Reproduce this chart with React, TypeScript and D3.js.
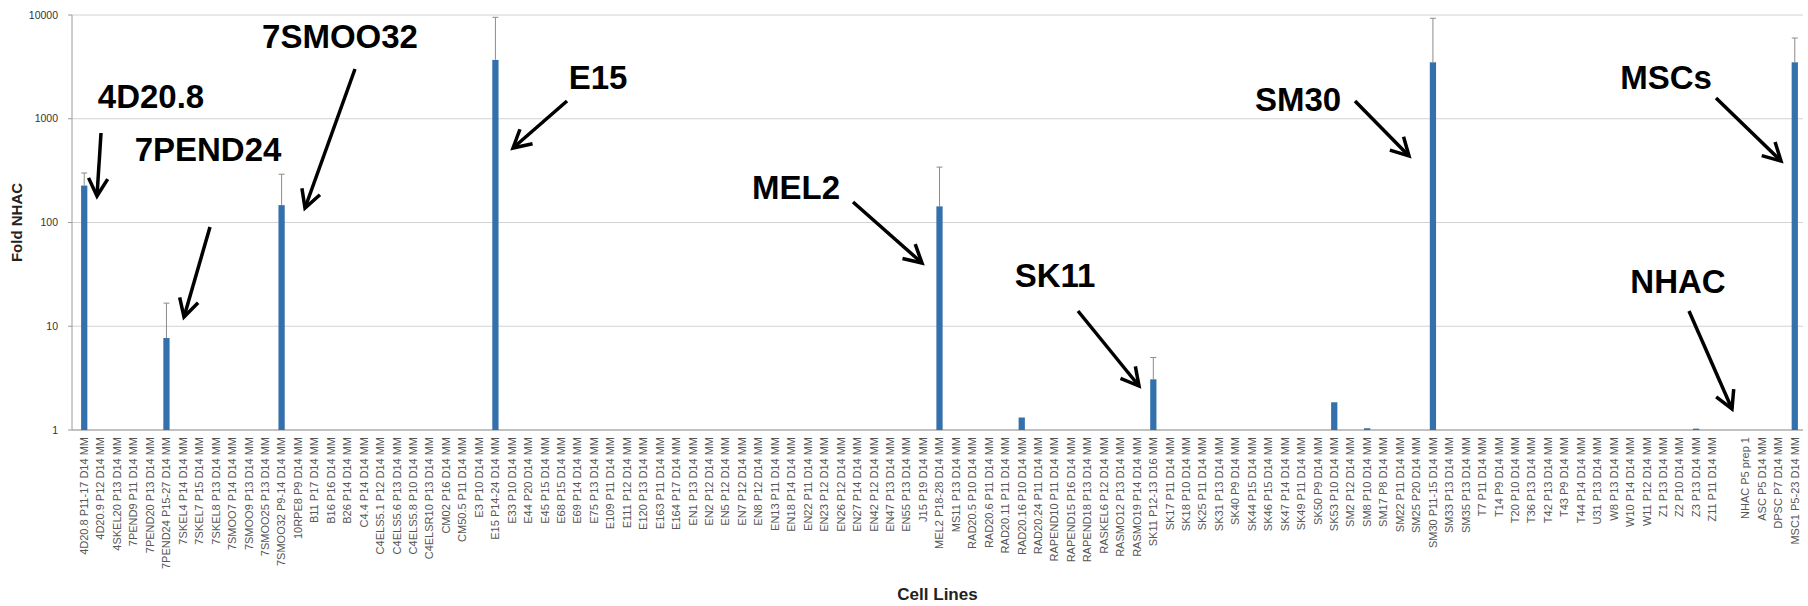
import React from "react";
import * as d3 from "d3";

const cellLines: string[] = [
  "4D20.8 P11-17 D14 MM", "4D20.9 P12 D14 MM", "4SKEL20 P13 D14 MM", "7PEND9 P11 D14 MM", "7PEND20 P13 D14 MM",
  "7PEND24 P15-27 D14 MM", "7SKEL4 P14 D14 MM", "7SKEL7 P15 D14 MM", "7SKEL8 P13 D14 MM", "7SMOO7 P14 D14 MM",
  "7SMOO9 P13 D14 MM", "7SMOO25 P13 D14 MM", "7SMOO32 P9-14 D14 MM", "10RPE8 P9 D14 MM", "B11 P17 D14 MM",
  "B16 P16 D14 MM", "B26 P14 D14 MM", "C4.4 P14 D14 MM", "C4ELS5.1 P12 D14 MM", "C4ELS5.6 P13 D14 MM",
  "C4ELS5.8 P10 D14 MM", "C4ELSR10 P13 D14 MM", "CM02 P16 D14 MM", "CM50.5 P11 D14 MM", "E3 P10 D14 MM",
  "E15 P14-24 D14 MM", "E33 P10 D14 MM", "E44 P20 D14 MM", "E45 P15 D14 MM", "E68 P15 D14 MM",
  "E69 P14 D14 MM", "E75 P13 D14 MM", "E109 P11 D14 MM", "E111 P12 D14 MM", "E120 P13 D14 MM",
  "E163 P11 D14 MM", "E164 P17 D14 MM", "EN1 P13 D14 MM", "EN2 P12 D14 MM", "EN5 P12 D14 MM",
  "EN7 P12 D14 MM", "EN8 P12 D14 MM", "EN13 P11 D14 MM", "EN18 P14 D14 MM", "EN22 P11 D14 MM",
  "EN23 P12 D14 MM", "EN26 P12 D14 MM", "EN27 P14 D14 MM", "EN42 P12 D14 MM", "EN47 P13 D14 MM",
  "EN55 P13 D14 MM", "J15 P19 D14 MM", "MEL2 P18-28 D14 MM", "MS11 P13 D14 MM", "RAD20.5 P10 D14 MM",
  "RAD20.6 P11 D14 MM", "RAD20.11 P11 D14 MM", "RAD20.16 P10 D14 MM", "RAD20.24 P11 D14 MM", "RAPEND10 P11 D14 MM",
  "RAPEND15 P16 D14 MM", "RAPEND18 P13 D14 MM", "RASKEL6 P12 D14 MM", "RASMO12 P13 D14 MM", "RASMO19 P14 D14 MM",
  "SK11 P12-13 D16 MM", "SK17 P11 D14 MM", "SK18 P10 D14 MM", "SK25 P11 D14 MM", "SK31 P13 D14 MM",
  "SK40 P9 D14 MM", "SK44 P15 D14 MM", "SK46 P15 D14 MM", "SK47 P14 D14 MM", "SK49 P11 D14 MM",
  "SK50 P9 D14 MM", "SK53 P10 D14 MM", "SM2 P12 D14 MM", "SM8 P10 D14 MM", "SM17 P8 D14 MM",
  "SM22 P11 D14 MM", "SM25 P20 D14 MM", "SM30 P11-15 D14 MM", "SM33 P13 D14 MM", "SM35 P13 D14 MM",
  "T7 P11 D14 MM", "T14 P9 D14 MM", "T20 P10 D14 MM", "T36 P13 D14 MM", "T42 P13 D14 MM",
  "T43 P9 D14 MM", "T44 P14 D14 MM", "U31 P13 D14 MM", "W8 P13 D14 MM", "W10 P14 D14 MM",
  "W11 P12 D14 MM", "Z1 P13 D14 MM", "Z2 P10 D14 MM", "Z3 P13 D14 MM", "Z11 P11 D14 MM",
  "", "NHAC P5 prep 1", "ASC P5 D14 MM", "DPSC P7 D14 MM", "MSC1 P5-23 D14 MM",
];

const foldNHAC: number[] = [
  227, 1, 1, 1, 1, 7.7, 1, 1, 1, 1, 1, 1, 147, 1, 1,
  1, 1, 1, 1, 1, 1, 1, 1, 1, 1, 3690, 1, 1, 1, 1,
  1, 1, 1, 1, 1, 1, 1, 1, 1, 1, 1, 1, 1, 1, 1,
  1, 1, 1, 1, 1, 1, 1, 143, 1, 1, 1, 1, 1.32, 1, 1,
  1, 1, 1, 1, 1, 3.08, 1, 1, 1, 1, 1, 1, 1, 1, 1,
  1, 1.85, 1, 1.04, 1, 1, 1, 3500, 1, 1, 1, 1, 1, 1, 1,
  1, 1, 1, 1, 1, 1, 1, 1, 1.03, 1, 1, 1, 1, 1, 3500,
];

const errorTop: number[] = [
  300, 0, 0, 0, 0, 16.7, 0, 0, 0, 0, 0, 0, 292, 0, 0,
  0, 0, 0, 0, 0, 0, 0, 0, 0, 0, 9500, 0, 0, 0, 0,
  0, 0, 0, 0, 0, 0, 0, 0, 0, 0, 0, 0, 0, 0, 0,
  0, 0, 0, 0, 0, 0, 0, 342, 0, 0, 0, 0, 0, 0, 0,
  0, 0, 0, 0, 0, 5.0, 0, 0, 0, 0, 0, 0, 0, 0, 0,
  0, 0, 0, 0, 0, 0, 0, 9300, 0, 0, 0, 0, 0, 0, 0,
  0, 0, 0, 0, 0, 0, 0, 0, 0, 0, 0, 0, 0, 0, 6000,
];

const yTicks: number[] = [1, 10, 100, 1000, 10000];

const annotationLabels: string[] = ["4D20.8", "7PEND24", "7SMOO32", "E15", "MEL2", "SK11", "SM30", "MSCs", "NHAC"];

// layout for annotations: text center and arrow start/end (pixels)
const annotationLayout = [
  { tx: 151, ty: 96, x1: 101, y1: 133, x2: 97, y2: 196 },
  { tx: 208, ty: 149, x1: 210, y1: 227, x2: 184, y2: 317 },
  { tx: 340, ty: 36, x1: 355, y1: 69, x2: 305, y2: 208 },
  { tx: 598, ty: 77, x1: 567, y1: 101, x2: 513, y2: 148 },
  { tx: 796, ty: 187, x1: 853, y1: 202, x2: 922, y2: 263 },
  { tx: 1055, ty: 275, x1: 1078, y1: 311, x2: 1139, y2: 386 },
  { tx: 1298, ty: 99, x1: 1355, y1: 101, x2: 1409, y2: 156 },
  { tx: 1666, ty: 77, x1: 1716, y1: 98, x2: 1781, y2: 161 },
  { tx: 1678, ty: 281, x1: 1689, y1: 311, x2: 1732, y2: 409 },
];

const W = 1808;
const H = 606;
const axisX = 72;
const left = 76;
const right = 1803;
const top = 15;
const bottom = 430;

export default function App() {
  const idx = cellLines.map((_, i) => i);
  const x = d3.scaleBand<number>().domain(idx).range([left, right]).paddingInner(0).paddingOuter(0);
  const y = d3.scaleLog().domain([1, 10000]).range([bottom, top]);
  const bw = x.bandwidth();
  const barW = bw * 0.38;

  const arrowHead = (x1: number, y1: number, x2: number, y2: number) => {
    const ang = Math.atan2(y2 - y1, x2 - x1);
    const L = 20;
    const spread = 0.5;
    const a1 = ang + Math.PI - spread;
    const a2 = ang + Math.PI + spread;
    return `M${x2 + L * Math.cos(a1)},${y2 + L * Math.sin(a1)} L${x2},${y2} L${x2 + L * Math.cos(a2)},${y2 + L * Math.sin(a2)}`;
  };

  return (
    <svg width={W} height={H} style={{ position: "absolute", left: 0, top: 0, background: "#fff" }}
      fontFamily="'Liberation Sans', Arial, sans-serif">
      {/* grid */}
      {yTicks.map((t) => (
        <line key={"g" + t} x1={axisX} x2={right} y1={y(t)} y2={y(t)} stroke="#d2d2d2" strokeWidth={1} />
      ))}
      {/* axes */}
      <line x1={axisX} x2={axisX} y1={top} y2={bottom} stroke="#9a9a9a" strokeWidth={1} />
      <line x1={axisX} x2={right} y1={bottom} y2={bottom} stroke="#9a9a9a" strokeWidth={1} />
      {yTicks.map((t) => (
        <g key={"t" + t}>
          <line x1={axisX - 4} x2={axisX} y1={y(t)} y2={y(t)} stroke="#9a9a9a" />
          <text x={axisX - 14} y={y(t)} dy="0.35em" textAnchor="end" fontSize={10.5} fill="#333">
            {t}
          </text>
        </g>
      ))}
      {/* bars */}
      {foldNHAC.map((v, i) => {
        const cx = (x(i) as number) + bw / 2;
        const yt = y(v);
        return (
          <rect key={"b" + i} x={cx - barW / 2} y={yt} width={barW} height={Math.max(0, bottom - yt)} fill="#3470ab" />
        );
      })}
      {/* error bars */}
      {errorTop.map((e, i) => {
        if (!e) return null;
        const cx = (x(i) as number) + bw / 2;
        return (
          <g key={"e" + i} stroke="#8c8c8c" strokeWidth={1}>
            <line x1={cx} x2={cx} y1={y(foldNHAC[i])} y2={y(e)} />
            <line x1={cx - 3} x2={cx + 3} y1={y(e)} y2={y(e)} />
          </g>
        );
      })}
      {/* x labels */}
      {cellLines.map((c, i) => {
        const cx = (x(i) as number) + bw / 2;
        return (
          <text key={"x" + i} transform={`translate(${cx + 3.8},${bottom + 7}) rotate(-90)`} textAnchor="end"
            fontSize={11} fill="#555">
            {c}
          </text>
        );
      })}
      {/* axis titles */}
      <text transform={`translate(22,${(top + bottom) / 2}) rotate(-90)`} textAnchor="middle" fontSize={15}
        fontWeight="bold" fill="#222">
        Fold NHAC
      </text>
      <text x={(axisX + right) / 2} y={600} textAnchor="middle" fontSize={17} fontWeight="bold" fill="#222">
        Cell Lines
      </text>
      {/* annotations */}
      {annotationLabels.map((lab, i) => {
        const a = annotationLayout[i];
        return (
          <g key={"a" + i}>
            <text x={a.tx} y={a.ty} dy="0.36em" textAnchor="middle" fontSize={33} fontWeight="bold" fill="#000">
              {lab}
            </text>
            <line x1={a.x1} y1={a.y1} x2={a.x2} y2={a.y2} stroke="#000" strokeWidth={3.5} />
            <path d={arrowHead(a.x1, a.y1, a.x2, a.y2)} fill="none" stroke="#000" strokeWidth={3.5}
              strokeLinejoin="miter" />
          </g>
        );
      })}
    </svg>
  );
}
